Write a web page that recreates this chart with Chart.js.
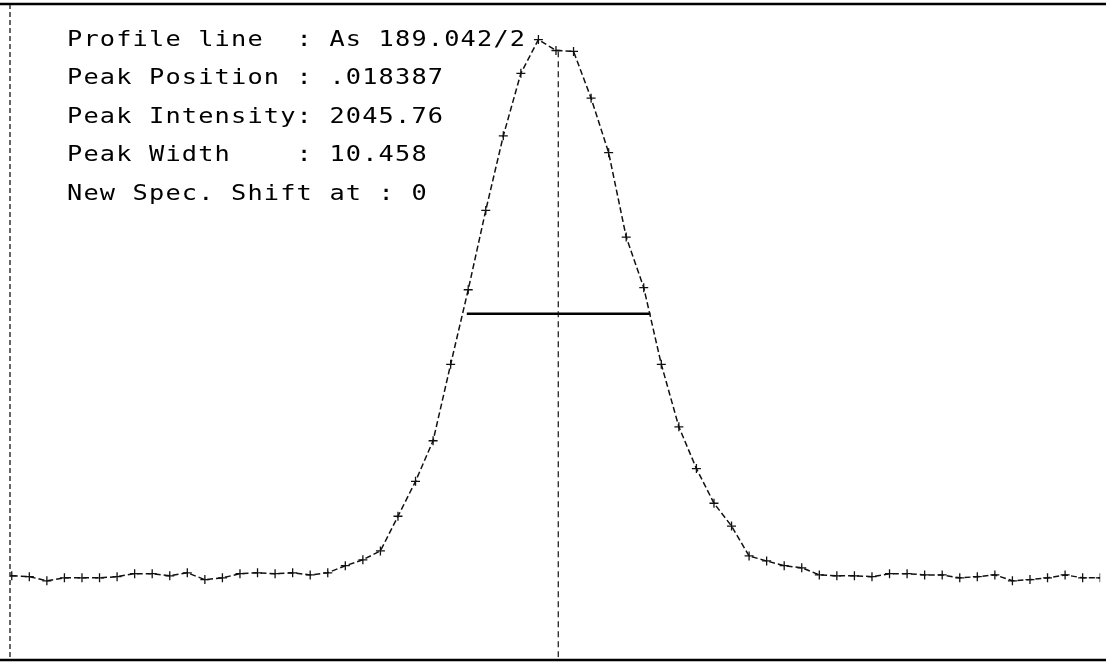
<!DOCTYPE html>
<html>
<head>
<meta charset="utf-8">
<script src="https://cdn.jsdelivr.net/npm/chart.js@4/dist/chart.umd.min.js"></script>
<style>
  body { margin: 0; background: #fff; }
</style>
</head>
<body>
<canvas id="myChart" width="1106" height="663"></canvas>
<script>
// channel index across the profile window
var channels = [];
for (var c = 0; c <= 62; c++) channels.push(c);

// intensity
var intensity = [275, 272, 258, 268, 268, 268, 272, 282, 282, 275,
                 285, 262, 268, 282, 285, 282, 285, 278, 285, 309,
                 329, 359, 476, 594, 731, 989, 1241, 1509, 1761, 1972,
                 2086, 2049, 2046, 1888, 1704, 1419, 1248, 989, 778, 637,
                 520, 443, 342, 325, 309, 302, 278, 275, 275, 272,
                 282, 282, 278, 278, 268, 272, 278, 258, 262, 268,
                 278, 268, 268];

var peakPos = 31.13;
var peakTop = 2046;
var halfMax = 1160;
var fwhmLeft = 25.92;
var fwhmRight = 36.38;

var infoLines = [
    "Profile line  : As 189.042/2",
    "Peak Position : .018387",
    "Peak Intensity: 2045.76",
    "Peak Width    : 10.458",
    "New Spec. Shift at : 0"
];

var profile = channels.map(function (c, i) { return { x: c, y: intensity[i] }; });

var framePlugin = {
    id: 'frame',
    afterDraw: function (chart) {
        var ctx = chart.ctx;
        ctx.save();
        ctx.strokeStyle = '#000';
        // top + bottom rules
        ctx.lineWidth = 2.5;
        ctx.beginPath();
        ctx.moveTo(0, 4); ctx.lineTo(1106, 4);
        ctx.moveTo(0, 660); ctx.lineTo(1106, 660);
        ctx.stroke();
        // left dashed edge
        ctx.lineWidth = 1.2;
        ctx.setLineDash([5, 3]);
        ctx.beginPath();
        ctx.moveTo(10, 4); ctx.lineTo(10, 660);
        ctx.stroke();
        ctx.setLineDash([]);
        // text block, fixed pitch, wide glyphs like the plotter font
        ctx.fillStyle = '#000';
        ctx.font = '22px "DejaVu Sans Mono"';
        ctx.textBaseline = 'middle';
        infoLines.forEach(function (line, k) {
            for (var j = 0; j < line.length; j++) {
                ctx.save();
                ctx.translate(67 + j * 16.4, 40 + k * 38.5);
                ctx.scale(1.15, 1);
                ctx.fillText(line[j], 0, 0);
                ctx.restore();
            }
        });
        ctx.restore();
    }
};

new Chart(document.getElementById('myChart').getContext('2d'), {
    type: 'line',
    data: {
        datasets: [{
            label: 'profile',
            data: profile,
            borderColor: '#111',
            borderWidth: 1.5,
            borderDash: [6, 3],
            pointStyle: 'cross',
            pointRadius: 4.5,
            pointBorderWidth: 1.3,
            pointBorderColor: '#111',
            tension: 0
        }, {
            label: 'peak',
            data: [{ x: peakPos, y: 0 }, { x: peakPos, y: peakTop }],
            borderColor: '#111',
            borderWidth: 1.2,
            borderDash: [6, 4],
            pointRadius: 0
        }, {
            label: 'fwhm',
            data: [{ x: fwhmLeft, y: halfMax }, { x: fwhmRight, y: halfMax }],
            borderColor: '#000',
            borderWidth: 2.5,
            pointRadius: 0
        }]
    },
    options: {
        responsive: false,
        animation: false,
        layout: { padding: { left: 10, top: 4, right: 0, bottom: 3 } },
        plugins: { legend: { display: false }, tooltip: { enabled: false } },
        scales: {
            x: { type: 'linear', min: -0.1, max: 62, display: false },
            y: { min: 0, max: 2200, display: false }
        }
    },
    plugins: [framePlugin]
});
</script>
</body>
</html>
